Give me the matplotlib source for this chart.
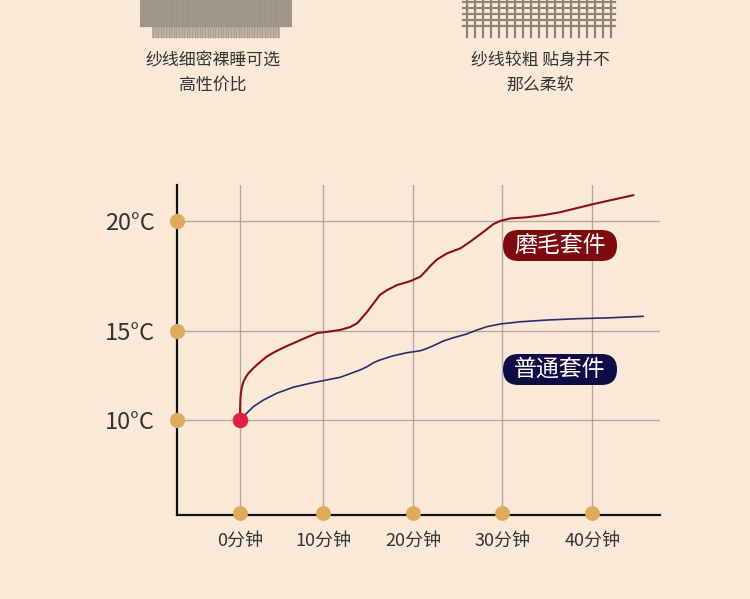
import numpy as np
import matplotlib
matplotlib.use("Agg")
import matplotlib.pyplot as plt
from matplotlib.patches import FancyBboxPatch, Rectangle

plt.rcParams['font.family'] = ['Noto Sans CJK SC', 'DejaVu Sans']

# ── data ──────────────────────────────────────────────
minute_ticks = [0, 10, 20, 30, 40]
minute_labels = ["0分钟", "10分钟", "20分钟", "30分钟", "40分钟"]
temp_ticks = [10, 15, 20]
temp_labels = ["10°C", "15°C", "20°C"]

# 磨毛套件 (brushed set)
brushed_t = [0, 0.0, 0.01, 0.03, 0.08, 0.2, 0.4, 0.7, 1.0, 1.5, 2.0, 2.6, 3.2,
             4.0, 4.8, 5.6, 6.4, 7.9, 9.3, 10.4, 11.9, 13.0, 13.8, 14.1, 14.9,
             15.6, 16.3, 17.1, 18.2, 19.7, 20.8, 21.35, 21.9, 22.7, 23.8, 25.3,
             26.4, 27.9, 29.0, 29.8, 30.9, 32.7, 34.6, 36.4, 40.1, 44.7]
brushed_v = [10.0, 10.45, 10.8, 11.12, 11.45, 11.8, 12.15, 12.42, 12.62, 12.87,
             13.09, 13.33, 13.56, 13.78, 13.97, 14.15, 14.31, 14.62, 14.89, 14.95,
             15.05, 15.18, 15.36, 15.5, 15.88, 16.26, 16.64, 16.86, 17.09, 17.27,
             17.47, 17.7, 17.95, 18.26, 18.53, 18.76, 19.06, 19.51, 19.86, 20.01,
             20.12, 20.17, 20.27, 20.4, 20.77, 21.18]

# 普通套件 (regular set)
plain_t = [0, 0.2, 0.8, 1.6, 2.8, 4.4, 6.4, 8.4, 10.4, 11.9, 14.1, 14.9, 15.6,
           16.3, 17.8, 19.3, 20.8, 21.5, 22.3, 23.4, 24.5, 26.0, 27.2, 28.3, 29.8,
           32.0, 35.0, 38.3, 42.0, 45.8]
plain_v = [10.0, 10.1, 10.38, 10.75, 11.12, 11.5, 11.84, 12.06, 12.25, 12.4,
           12.81, 13.0, 13.22, 13.37, 13.61, 13.78, 13.89, 14.01, 14.18, 14.44,
           14.62, 14.83, 15.05, 15.2, 15.32, 15.42, 15.5, 15.56, 15.6, 15.67]

series_names = ["磨毛套件", "普通套件"]
notes_left = "纱线细密裸睡可选\n高性价比"
notes_right = "纱线较粗 贴身并不\n那么柔软"

# ── colours ───────────────────────────────────────────
BG = "#FAE9D7"
RED = "#8C1016"
NAVY = "#2E2C6E"
RED_BOX = "#7D0A0E"
NAVY_BOX = "#120C45"
GOLD = "#DEAA5C"
DOT = "#E0213F"
GRID = "#AA9E92"
TXT = "#333333"

# grid in the picture is not evenly spaced -> piecewise scales
x_knots = [-100, 0, 10, 20, 30, 40, 100]
x_px = [-830, 0, 83, 173, 262, 352, 880]
y_knots = [-50, 10, 15, 20, 80]
y_px = [-1068, 0, 89, 199, 1519]


def fx(v):
    return np.interp(v, x_knots, x_px)


def fx_inv(p):
    return np.interp(p, x_px, x_knots)


def fy(v):
    return np.interp(v, y_knots, y_px)


def fy_inv(p):
    return np.interp(p, y_px, y_knots)


fig = plt.figure(figsize=(7.5, 5.99), dpi=100, facecolor=BG)

# background layer in pixel coords (fabric swatches + notes)
bg = fig.add_axes([0, 0, 1, 1], zorder=0)
bg.set_xlim(0, 750)
bg.set_ylim(599, 0)
bg.axis("off")
bg.set_facecolor(BG)

# left swatch: fine dense weave
bg.add_patch(Rectangle((140, 0), 152, 27, color="#A2988A", lw=0))
bg.add_patch(Rectangle((152, 27), 128, 11, color="#BCB1A2", lw=0))
for xv in np.arange(141, 292, 2.2):
    bg.plot([xv, xv], [0, 27], color="#8F8476", lw=0.4, alpha=0.6)
for xv in np.arange(153, 280, 2.6):
    bg.plot([xv, xv], [27, 38], color="#998E7F", lw=0.5, alpha=0.7)
for yv in np.arange(1, 27, 2.2):
    bg.plot([140, 292], [yv, yv], color="#B3A999", lw=0.3, alpha=0.5)

# right swatch: coarse open weave
for xv in np.arange(467, 615, 8):
    bg.plot([xv, xv], [0, 37], color="#8F8477", lw=1.6)
for yv in [2, 8, 14, 20, 26]:
    bg.plot([463, 615], [yv, yv], color="#8F8477", lw=1.6)

bg.text(213, 73, notes_left, ha="center", va="center", fontsize=12.2,
        color=TXT, linespacing=1.45)
bg.text(540, 73, notes_right, ha="center", va="center", fontsize=12.2,
        color=TXT, linespacing=1.45)

# chart
ax = fig.add_axes([177 / 750, 1 - 515 / 599, (660 - 177) / 750, (515 - 185) / 599],
                  zorder=1)
ax.set_facecolor("none")
ax.set_xscale("function", functions=(fx, fx_inv))
ax.set_yscale("function", functions=(fy, fy_inv))
ax.set_xlim(-7.6, 47.7)
ax.set_ylim(4.66, 21.64)

for s in ["top", "right"]:
    ax.spines[s].set_visible(False)
for s in ["left", "bottom"]:
    ax.spines[s].set_color("#111111")
    ax.spines[s].set_linewidth(1.6)

ax.set_xticks(minute_ticks)
ax.set_xticklabels(minute_labels, fontsize=13, color=TXT)
ax.set_yticks(temp_ticks)
ax.set_yticklabels(temp_labels, fontsize=17, color=TXT)
ax.xaxis.set_minor_locator(plt.NullLocator())
ax.yaxis.set_minor_locator(plt.NullLocator())
ax.tick_params(axis="x", length=0, pad=12)
ax.tick_params(axis="y", length=0, pad=16)
ax.grid(True, color=GRID, lw=1.0, alpha=0.85)
ax.set_axisbelow(True)

ax.plot(brushed_t, brushed_v, color=RED, lw=1.5, zorder=3,
        solid_joinstyle="round", solid_capstyle="round")
ax.plot(plain_t, plain_v, color=NAVY, lw=1.2, zorder=3,
        solid_joinstyle="round", solid_capstyle="round")

ax.scatter([ax.get_xlim()[0]] * len(temp_ticks), temp_ticks, s=120, color=GOLD,
           zorder=5, clip_on=False, lw=0)
ax.scatter(minute_ticks, [ax.get_ylim()[0] + 0.1] * len(minute_ticks), s=115,
           color=GOLD, zorder=5, clip_on=False, lw=0)
ax.scatter([brushed_t[0]], [brushed_v[0]], s=125, color=DOT, zorder=6, lw=0)

# series tags on top layer
top = fig.add_axes([0, 0, 1, 1], zorder=3)
top.set_xlim(0, 750)
top.set_ylim(599, 0)
top.axis("off")
top.set_facecolor("none")
for name, col, y0 in zip(series_names, [RED_BOX, NAVY_BOX], [230, 354]):
    top.add_patch(FancyBboxPatch((503, y0), 114, 31,
                                 boxstyle="round,pad=0,rounding_size=15.5",
                                 color=col, lw=0))
    top.text(560, y0 + 15.5, name, ha="center", va="center", fontsize=16.5,
             color="white")

fig.savefig("out.png", dpi=100, facecolor=BG)
